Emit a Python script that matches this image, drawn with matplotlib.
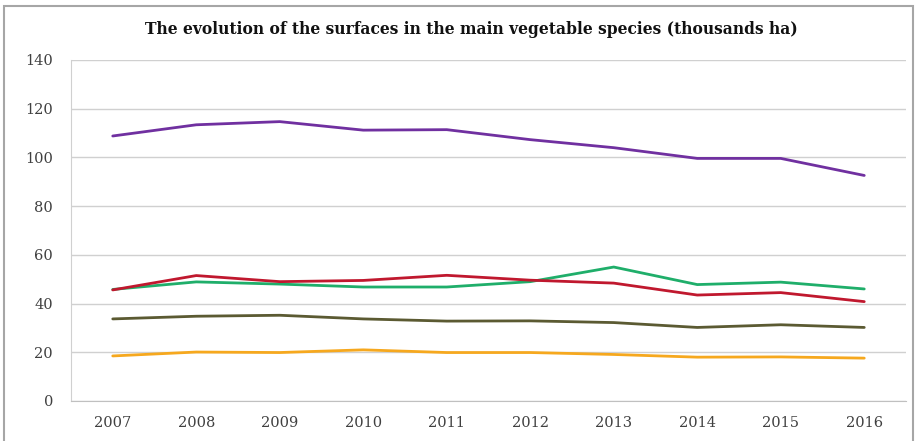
import matplotlib
matplotlib.use("Agg")
import matplotlib.pyplot as plt
from matplotlib.patches import Rectangle

years = ["2007", "2008", "2009", "2010", "2011", "2012", "2013", "2014", "2015", "2016"]
purple_vals = [108.8, 113.4, 114.7, 111.2, 111.4, 107.3, 104.0, 99.6, 99.6, 92.6]
red_vals = [45.6, 51.5, 49.0, 49.5, 51.6, 49.6, 48.4, 43.5, 44.5, 40.8]
green_vals = [45.8, 48.9, 48.0, 46.8, 46.8, 49.0, 55.0, 47.8, 48.8, 46.0]
olive_vals = [33.7, 34.8, 35.2, 33.7, 32.8, 32.9, 32.2, 30.2, 31.3, 30.2]
orange_vals = [18.5, 20.1, 19.9, 21.0, 19.9, 19.9, 19.1, 18.0, 18.1, 17.6]

series = [
    (purple_vals, "#7030a0"),
    (olive_vals, "#5b5a32"),
    (orange_vals, "#f6a81e"),
    (green_vals, "#1fae6a"),
    (red_vals, "#c0182e"),
]

yticks = [0, 20, 40, 60, 80, 100, 120, 140]

fig = plt.figure(figsize=(9.17, 4.41), dpi=100)
fig.patch.set_facecolor("white")
fig.add_artist(Rectangle((4 / 917, -0.05), 909 / 917, 1.05 - 6 / 441,
                         transform=fig.transFigure, fill=False,
                         edgecolor="#a6a6a6", linewidth=1.5))

ax = fig.add_axes([71 / 917, 1 - 401 / 441, 835 / 917, 341 / 441])
x = list(range(len(years)))
for vals, col in series:
    ax.plot(x, vals, color=col, linewidth=2.0, solid_capstyle="round")

ax.set_xlim(-0.5, len(years) - 0.5)
ax.set_ylim(0, 140)
ax.set_yticks(yticks)
ax.set_xticks(x)
ax.set_xticklabels(years)
ax.grid(axis="y", color="#d0d0d0", linewidth=1.0)
ax.set_axisbelow(True)
for s in ["top", "right"]:
    ax.spines[s].set_visible(False)
ax.spines["left"].set_color("#d0d0d0")
ax.spines["bottom"].set_color("#c0c0c0")
ax.tick_params(axis="both", length=0, labelsize=10.5, labelcolor="#404040")
ax.tick_params(axis="y", pad=13)
ax.tick_params(axis="x", pad=11)
for lab in ax.get_xticklabels() + ax.get_yticklabels():
    lab.set_family("DejaVu Serif")

fig.text(471 / 917, 1 - 30 / 441,
         "The evolution of the surfaces in the main vegetable species (thousands ha)",
         ha="center", va="center", fontsize=11.2, fontweight="bold",
         family="DejaVu Serif", color="#111111")

fig.savefig("out.png", dpi=100, facecolor="white")
